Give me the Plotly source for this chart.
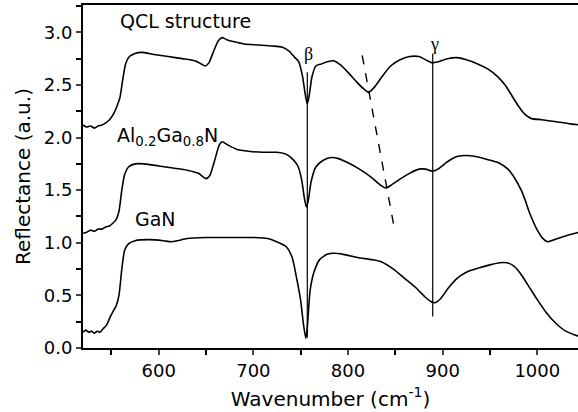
import plotly.graph_objects as go

qcl_x = [520, 524, 528, 532, 536, 540, 544, 548, 552, 556, 559, 562, 565, 569, 575, 582, 595, 610, 625, 638, 645, 649, 653, 658, 663, 667, 672, 680, 690, 705, 720, 730, 738, 744, 748, 752, 755, 757, 759, 762, 766, 772, 778, 785, 792, 800, 810, 817, 822, 828, 836, 845, 855, 865, 875, 884, 889, 895, 905, 915, 925, 937, 948, 958, 966, 973, 980, 987, 994, 1005, 1020, 1035, 1045]
qcl_y = [2.12, 2.10, 2.11, 2.09, 2.11, 2.12, 2.14, 2.17, 2.22, 2.30, 2.38, 2.55, 2.70, 2.77, 2.80, 2.81, 2.79, 2.77, 2.75, 2.73, 2.70, 2.68, 2.71, 2.82, 2.92, 2.95, 2.93, 2.91, 2.89, 2.88, 2.87, 2.86, 2.82, 2.76, 2.72, 2.58, 2.40, 2.32, 2.40, 2.58, 2.68, 2.70, 2.72, 2.73, 2.69, 2.62, 2.52, 2.46, 2.43, 2.48, 2.58, 2.68, 2.74, 2.77, 2.77, 2.73, 2.71, 2.72, 2.75, 2.76, 2.74, 2.70, 2.65, 2.58, 2.50, 2.40, 2.30, 2.22, 2.18, 2.17, 2.15, 2.13, 2.12]

algan_x = [520, 524, 528, 532, 536, 540, 544, 548, 552, 555, 558, 561, 564, 568, 575, 585, 600, 615, 630, 642, 650, 654, 659, 664, 667, 673, 682, 695, 710, 725, 735, 742, 747, 751, 754, 756, 758, 761, 766, 773, 782, 790, 800, 812, 825, 834, 840, 846, 854, 865, 875, 882, 889, 895, 905, 915, 925, 935, 948, 959, 969, 975, 983, 987, 992, 1000, 1006, 1011, 1018, 1028, 1040, 1045]
algan_y = [1.09, 1.10, 1.12, 1.11, 1.13, 1.13, 1.15, 1.16, 1.19, 1.22, 1.30, 1.50, 1.65, 1.72, 1.75, 1.75, 1.73, 1.71, 1.69, 1.66, 1.61, 1.64, 1.78, 1.93, 1.96, 1.93, 1.89, 1.87, 1.86, 1.86, 1.84, 1.79, 1.73, 1.60, 1.42, 1.34, 1.40, 1.58, 1.72, 1.78, 1.81, 1.80, 1.76, 1.70, 1.62, 1.55, 1.52, 1.55, 1.60, 1.66, 1.70, 1.70, 1.68, 1.70, 1.77, 1.82, 1.83, 1.82, 1.79, 1.76, 1.70, 1.63, 1.50, 1.41, 1.28, 1.12, 1.04, 1.01, 1.03, 1.06, 1.09, 1.10]

gan_x = [520, 523, 526, 529, 532, 535, 538, 541, 545, 549, 552, 555, 558, 561, 564, 568, 575, 590, 605, 613, 620, 630, 650, 680, 700, 715, 727, 735, 741, 746, 750, 753, 755.5, 757, 760, 764, 770, 778, 785, 795, 810, 825, 835, 848, 860, 872, 882, 888, 892, 898, 906, 915, 925, 938, 950, 960, 968, 975, 982, 990, 1000, 1010, 1019, 1030, 1041, 1045]
gan_y = [0.15, 0.17, 0.15, 0.16, 0.14, 0.16, 0.15, 0.18, 0.22, 0.30, 0.35, 0.40, 0.50, 0.75, 0.93, 0.99, 1.02, 1.03, 1.02, 1.01, 1.02, 1.04, 1.05, 1.05, 1.05, 1.04, 1.00, 0.96, 0.86, 0.65, 0.45, 0.22, 0.09, 0.20, 0.55, 0.72, 0.84, 0.89, 0.90, 0.89, 0.86, 0.84, 0.82, 0.75, 0.66, 0.57, 0.48, 0.44, 0.43, 0.47, 0.57, 0.66, 0.72, 0.76, 0.79, 0.81, 0.81, 0.78, 0.71, 0.60, 0.46, 0.33, 0.24, 0.16, 0.12, 0.11]

beta_x = [757, 757]
beta_y = [0.10, 2.62]
gamma_x = [889.5, 889.5]
gamma_y = [0.30, 2.80]
dash_x = [815, 849.5]
dash_y = [2.78, 1.11]

x_ticks = [600, 700, 800, 900, 1000]
y_ticks = [0.0, 0.5, 1.0, 1.5, 2.0, 2.5, 3.0]

labels = ["QCL structure", "Al<sub>0.2</sub>Ga<sub>0.8</sub>N", "GaN"]
label_x = [556.8, 553.7, 572.6]
label_y = [3.11, 2.01, 1.23]
greek = ["β", "γ"]
greek_x = [758, 891]
greek_y = [2.79, 2.89]

SANS = "DejaVu Sans"

fig = go.Figure()
for xs, ys in [(qcl_x, qcl_y), (algan_x, algan_y), (gan_x, gan_y)]:
    fig.add_trace(go.Scatter(x=xs, y=ys, mode="lines", line=dict(color="black", width=1.6, shape="spline", smoothing=0.6),
                             showlegend=False, hoverinfo="skip"))
for xs, ys in [(beta_x, beta_y), (gamma_x, gamma_y)]:
    fig.add_trace(go.Scatter(x=xs, y=ys, mode="lines", line=dict(color="black", width=1.2), showlegend=False))
fig.add_trace(go.Scatter(x=dash_x, y=dash_y, mode="lines", line=dict(color="black", width=1.4, dash="dash"), showlegend=False))

for t, x, y in zip(labels, label_x, label_y):
    fig.add_annotation(x=x, y=y, text=t, showarrow=False, xanchor="left", yanchor="middle",
                       font=dict(family=SANS, size=19, color="black"))
for t, x, y in zip(greek, greek_x, greek_y):
    fig.add_annotation(x=x, y=y, text=t, showarrow=False, xanchor="center", yanchor="middle",
                       font=dict(family="Liberation Serif", size=18, color="black"))

axis_font = dict(family=SANS, size=18, color="black")
fig.update_layout(
    width=578, height=412,
    margin=dict(l=83, r=0, t=5, b=64),
    plot_bgcolor="white", paper_bgcolor="white",
    xaxis=dict(range=[520, 1043], tickvals=x_ticks, ticks="outside", ticklen=5, tickwidth=2,
               showline=True, linewidth=2, linecolor="black", mirror=True, showgrid=False, zeroline=False,
               tickfont=axis_font, automargin=False,
               minor=dict(dtick=50, ticks="outside", ticklen=5, tickwidth=2, tickcolor="black"),
               title=dict(text="Wavenumber (cm<sup>-1</sup>)", font=dict(family=SANS, size=20, color="black"), standoff=12)),
    yaxis=dict(range=[0, 3.26], tickvals=y_ticks, ticktext=["%.1f" % v for v in y_ticks], ticks="outside", ticklen=5, tickwidth=2,
               showline=True, linewidth=2, linecolor="black", mirror=True, showgrid=False, zeroline=False,
               tickfont=axis_font, automargin=False,
               minor=dict(dtick=0.25, ticks="outside", ticklen=5, tickwidth=2, tickcolor="black"),
               title=dict(text="Reflectance (a.u.)", font=dict(family=SANS, size=20, color="black"), standoff=8)),
)
fig.write_html("out.html", config={"displayModeBar": False},
               post_script="document.body.style.margin='0';document.body.style.padding='0';")
